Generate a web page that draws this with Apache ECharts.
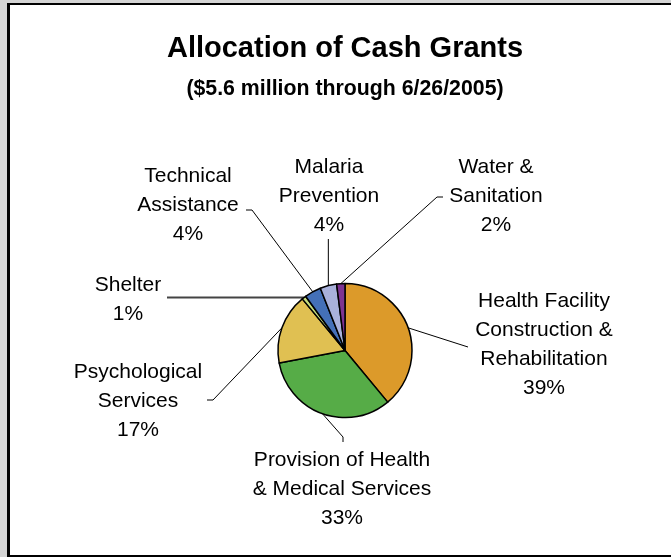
<!DOCTYPE html>
<html>
<head>
<meta charset="utf-8">
<script src="https://cdn.jsdelivr.net/npm/echarts@6/dist/echarts.min.js"></script>
<style>
  html, body { margin: 0; padding: 0; width: 671px; height: 557px; overflow: hidden; background: #d4d4d4; }
  #frame { position: absolute; left: 7px; top: 3px; width: 700px; height: 554px; box-sizing: border-box;
           background: #fff; border-left: 3px solid #000; border-top: 2px solid #000; border-bottom: 2px solid #000; }
  #chart { position: absolute; left: 0; top: 0; width: 671px; height: 557px; }
</style>
</head>
<body>
<div id="frame"></div>
<div id="chart"></div>
<script>
// ---- data ----
const categories = [
  'Health Facility\nConstruction &\nRehabilitation',
  'Provision of Health\n& Medical Services',
  'Psychological\nServices',
  'Shelter',
  'Technical\nAssistance',
  'Malaria\nPrevention',
  'Water &\nSanitation'
];
const shares = [39, 33, 17, 1, 4, 4, 2];
const titleText = 'Allocation of Cash Grants';
const subtitleText = '($5.6 million through 6/26/2005)';

// ---- styles / layout ----
const colors = ['#DC9A2A', '#56AC47', '#E0C052', '#C6DD7C', '#4470B8', '#A9B1DB', '#7E3391'];
const FONT = '"Liberation Sans", Arial, Helvetica, sans-serif';
const labelPlacement = [
  { x: 544, y: 344.5, line: [[468, 347]] },
  { x: 342, y: 489, line: [[343, 437], [343, 442]] },
  { x: 138, y: 401, line: [[213, 400], [207, 400]] },
  { x: 128, y: 299.5, line: [[167, 297.5]], lineColor: '#444', lineWidth: 2 },
  { x: 188, y: 205, line: [[252, 210], [246, 210]] },
  { x: 329, y: 196.5, line: [[null, 239]] },
  { x: 496, y: 196.5, line: [[437, 197], [443, 197]] }
];

const data = categories.map((name, i) => ({
  name: name,
  value: shares[i],
  itemStyle: { color: colors[i] },
  labelLine: { lineStyle: { color: labelPlacement[i].lineColor || '#000', width: labelPlacement[i].lineWidth || 1 } }
}));

const chart = echarts.init(document.getElementById('chart'), null, { renderer: 'canvas' });
chart.setOption({
  animation: false,
  graphic: [
    { type: 'text', x: 345, y: 49,
      style: { text: titleText, fontFamily: FONT, fontWeight: 'bold', fontSize: 29, fill: '#000', align: 'center', verticalAlign: 'middle' } },
    { type: 'text', x: 345, y: 89,
      style: { text: subtitleText, fontFamily: FONT, fontWeight: 'bold', fontSize: 21.3, fill: '#000', align: 'center', verticalAlign: 'middle' } }
  ],
  series: [{
    type: 'pie',
    center: [345, 350.5],
    radius: 67,
    startAngle: 90,
    clockwise: true,
    avoidLabelOverlap: false,
    itemStyle: { borderColor: '#000', borderWidth: 1.5 },
    emphasis: { disabled: true },
    label: {
      show: true,
      position: 'outside',
      fontFamily: FONT,
      fontSize: 21,
      lineHeight: 29,
      color: '#000',
      formatter: p => p.name + '\n' + p.value + '%'
    },
    labelLine: { show: true, length: 10, length2: 10 },
    labelLayout: function (params) {
      const lp = labelPlacement[params.dataIndex];
      const start = params.labelLinePoints ? params.labelLinePoints[0] : null;
      const pts = [start].concat(lp.line.map(p => [p[0] == null ? start[0] : p[0], p[1]]));
      return {
        x: lp.x, y: lp.y, align: 'center', verticalAlign: 'middle',
        labelLinePoints: pts
      };
    },
    data: data
  }]
});
</script>
</body>
</html>
